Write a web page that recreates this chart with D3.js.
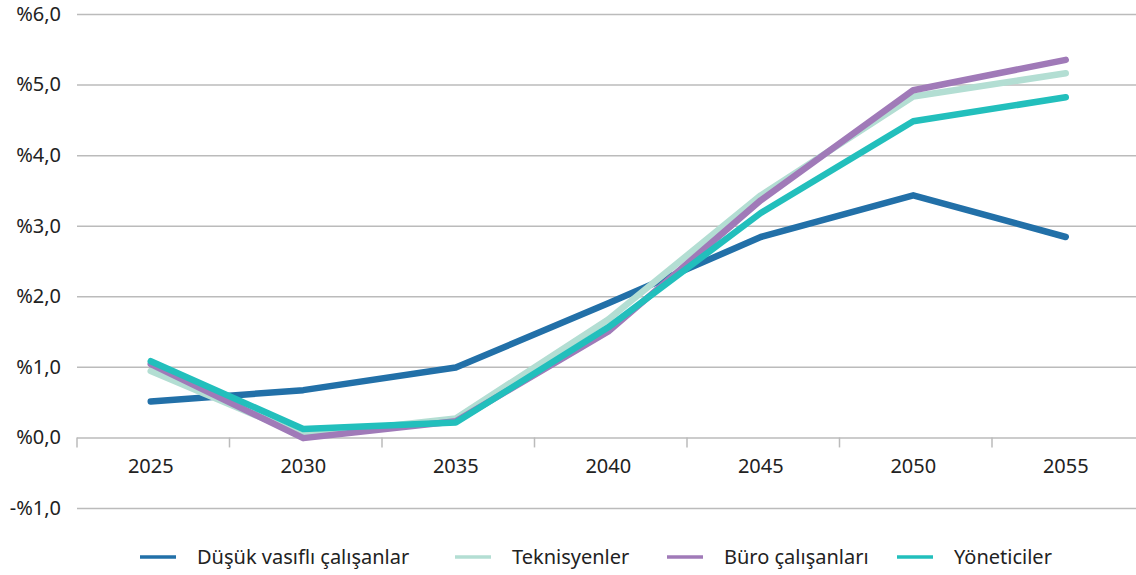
<!DOCTYPE html>
<html>
<head>
<meta charset="utf-8">
<script src="https://cdn.jsdelivr.net/npm/d3@7"></script>
<style>
  body { margin: 0; background: #fff; }
  svg text { font-family: "Noto Sans", sans-serif; fill: #222; }
</style>
</head>
<body>
<svg id="drawing_region"></svg>
<script>
const years = ["2025", "2030", "2035", "2040", "2045", "2050", "2055"];
const seriesNames = ["Düşük vasıflı çalışanlar", "Teknisyenler", "Büro çalışanları", "Yöneticiler"];
const seriesColors = ["#2270a8", "#b3ded3", "#a07ab8", "#22bfbc"];
const dusuk = [0.51, 0.67, 0.99, 1.90, 2.84, 3.43, 2.84];
const teknisyen = [0.94, 0.03, 0.27, 1.67, 3.43, 4.83, 5.16];
const buro = [1.04, -0.01, 0.23, 1.50, 3.36, 4.92, 5.35];
const yonetici = [1.08, 0.12, 0.21, 1.56, 3.18, 4.48, 4.82];
const yTicks = [-1, 0, 1, 2, 3, 4, 5, 6];

const seriesValues = [dusuk, teknisyen, buro, yonetici];

const width = 1136, height = 575;
const margin = {top: 14, right: 0, bottom: 67, left: 77};

const svg = d3.select('#drawing_region')
    .attr('width', width)
    .attr('height', height);

const chart = svg.append('g')
    .attr('transform', `translate(${margin.left}, ${margin.top})`);

const inner_width = width - margin.left - margin.right;
const inner_height = height - margin.top - margin.bottom;

// categories run a little past the right edge of the picture
const xscale = d3.scaleBand()
    .domain(years)
    .range([0, 152.5 * years.length]);
const shift = -2.5; // points sit slightly left of band centre

const yscale = d3.scaleLinear()
    .domain([-1, 6])
    .range([inner_height, 0]);

// horizontal grid lines
const yaxis = d3.axisLeft(yscale)
    .tickValues(yTicks)
    .tickSize(-inner_width)
    .tickPadding(16)
    .tickFormat(d => (d < 0 ? "-%" : "%") + d3.format(".1f")(Math.abs(d)).replace(".", ","));

const yaxis_group = chart.append('g').call(yaxis);
yaxis_group.select('.domain').remove();
yaxis_group.selectAll('line').attr('stroke', '#bbb').attr('stroke-width', 1.5);
yaxis_group.selectAll('text').attr('font-size', '20px').style('fill', '#222');

// category axis along zero line
const xaxis = d3.axisBottom(xscale).tickSize(0).tickPadding(21);
const xaxis_group = chart.append('g')
    .attr('transform', `translate(${shift}, ${yscale(0)})`)
    .call(xaxis);
xaxis_group.select('.domain').remove();
xaxis_group.selectAll('text').attr('font-size', '20px').style('fill', '#222');

// band boundary ticks
const boundaries = years.map(y => xscale(y));
chart.append('g').selectAll('line')
    .data(boundaries)
    .join('line')
    .attr('x1', d => d).attr('x2', d => d)
    .attr('y1', yscale(0)).attr('y2', yscale(0) + 10)
    .attr('stroke', '#bbb').attr('stroke-width', 1.5);

const line = d3.line()
    .x((d, i) => xscale(years[i]) + xscale.bandwidth() / 2 + shift)
    .y(d => yscale(d));

chart.append('g').selectAll('path')
    .data(seriesValues)
    .join('path')
    .attr('d', d => line(d))
    .attr('fill', 'none')
    .attr('stroke', (d, i) => seriesColors[i])
    .attr('stroke-width', 6.5)
    .attr('stroke-linecap', 'round')
    .attr('stroke-linejoin', 'round');

// legend
const legendX = [140, 455, 667, 897];
const legend = svg.append('g').attr('transform', 'translate(0, 557)');
const items = legend.selectAll('g')
    .data(seriesNames)
    .join('g')
    .attr('transform', (d, i) => `translate(${legendX[i]}, 0)`);
items.append('line')
    .attr('x1', 0).attr('x2', 36)
    .attr('stroke', (d, i) => seriesColors[i])
    .attr('stroke-width', 3.5);
items.append('text')
    .attr('x', 57)
    .attr('dy', '0.35em')
    .attr('font-size', '20px')
    .text(d => d);
</script>
</body>
</html>
